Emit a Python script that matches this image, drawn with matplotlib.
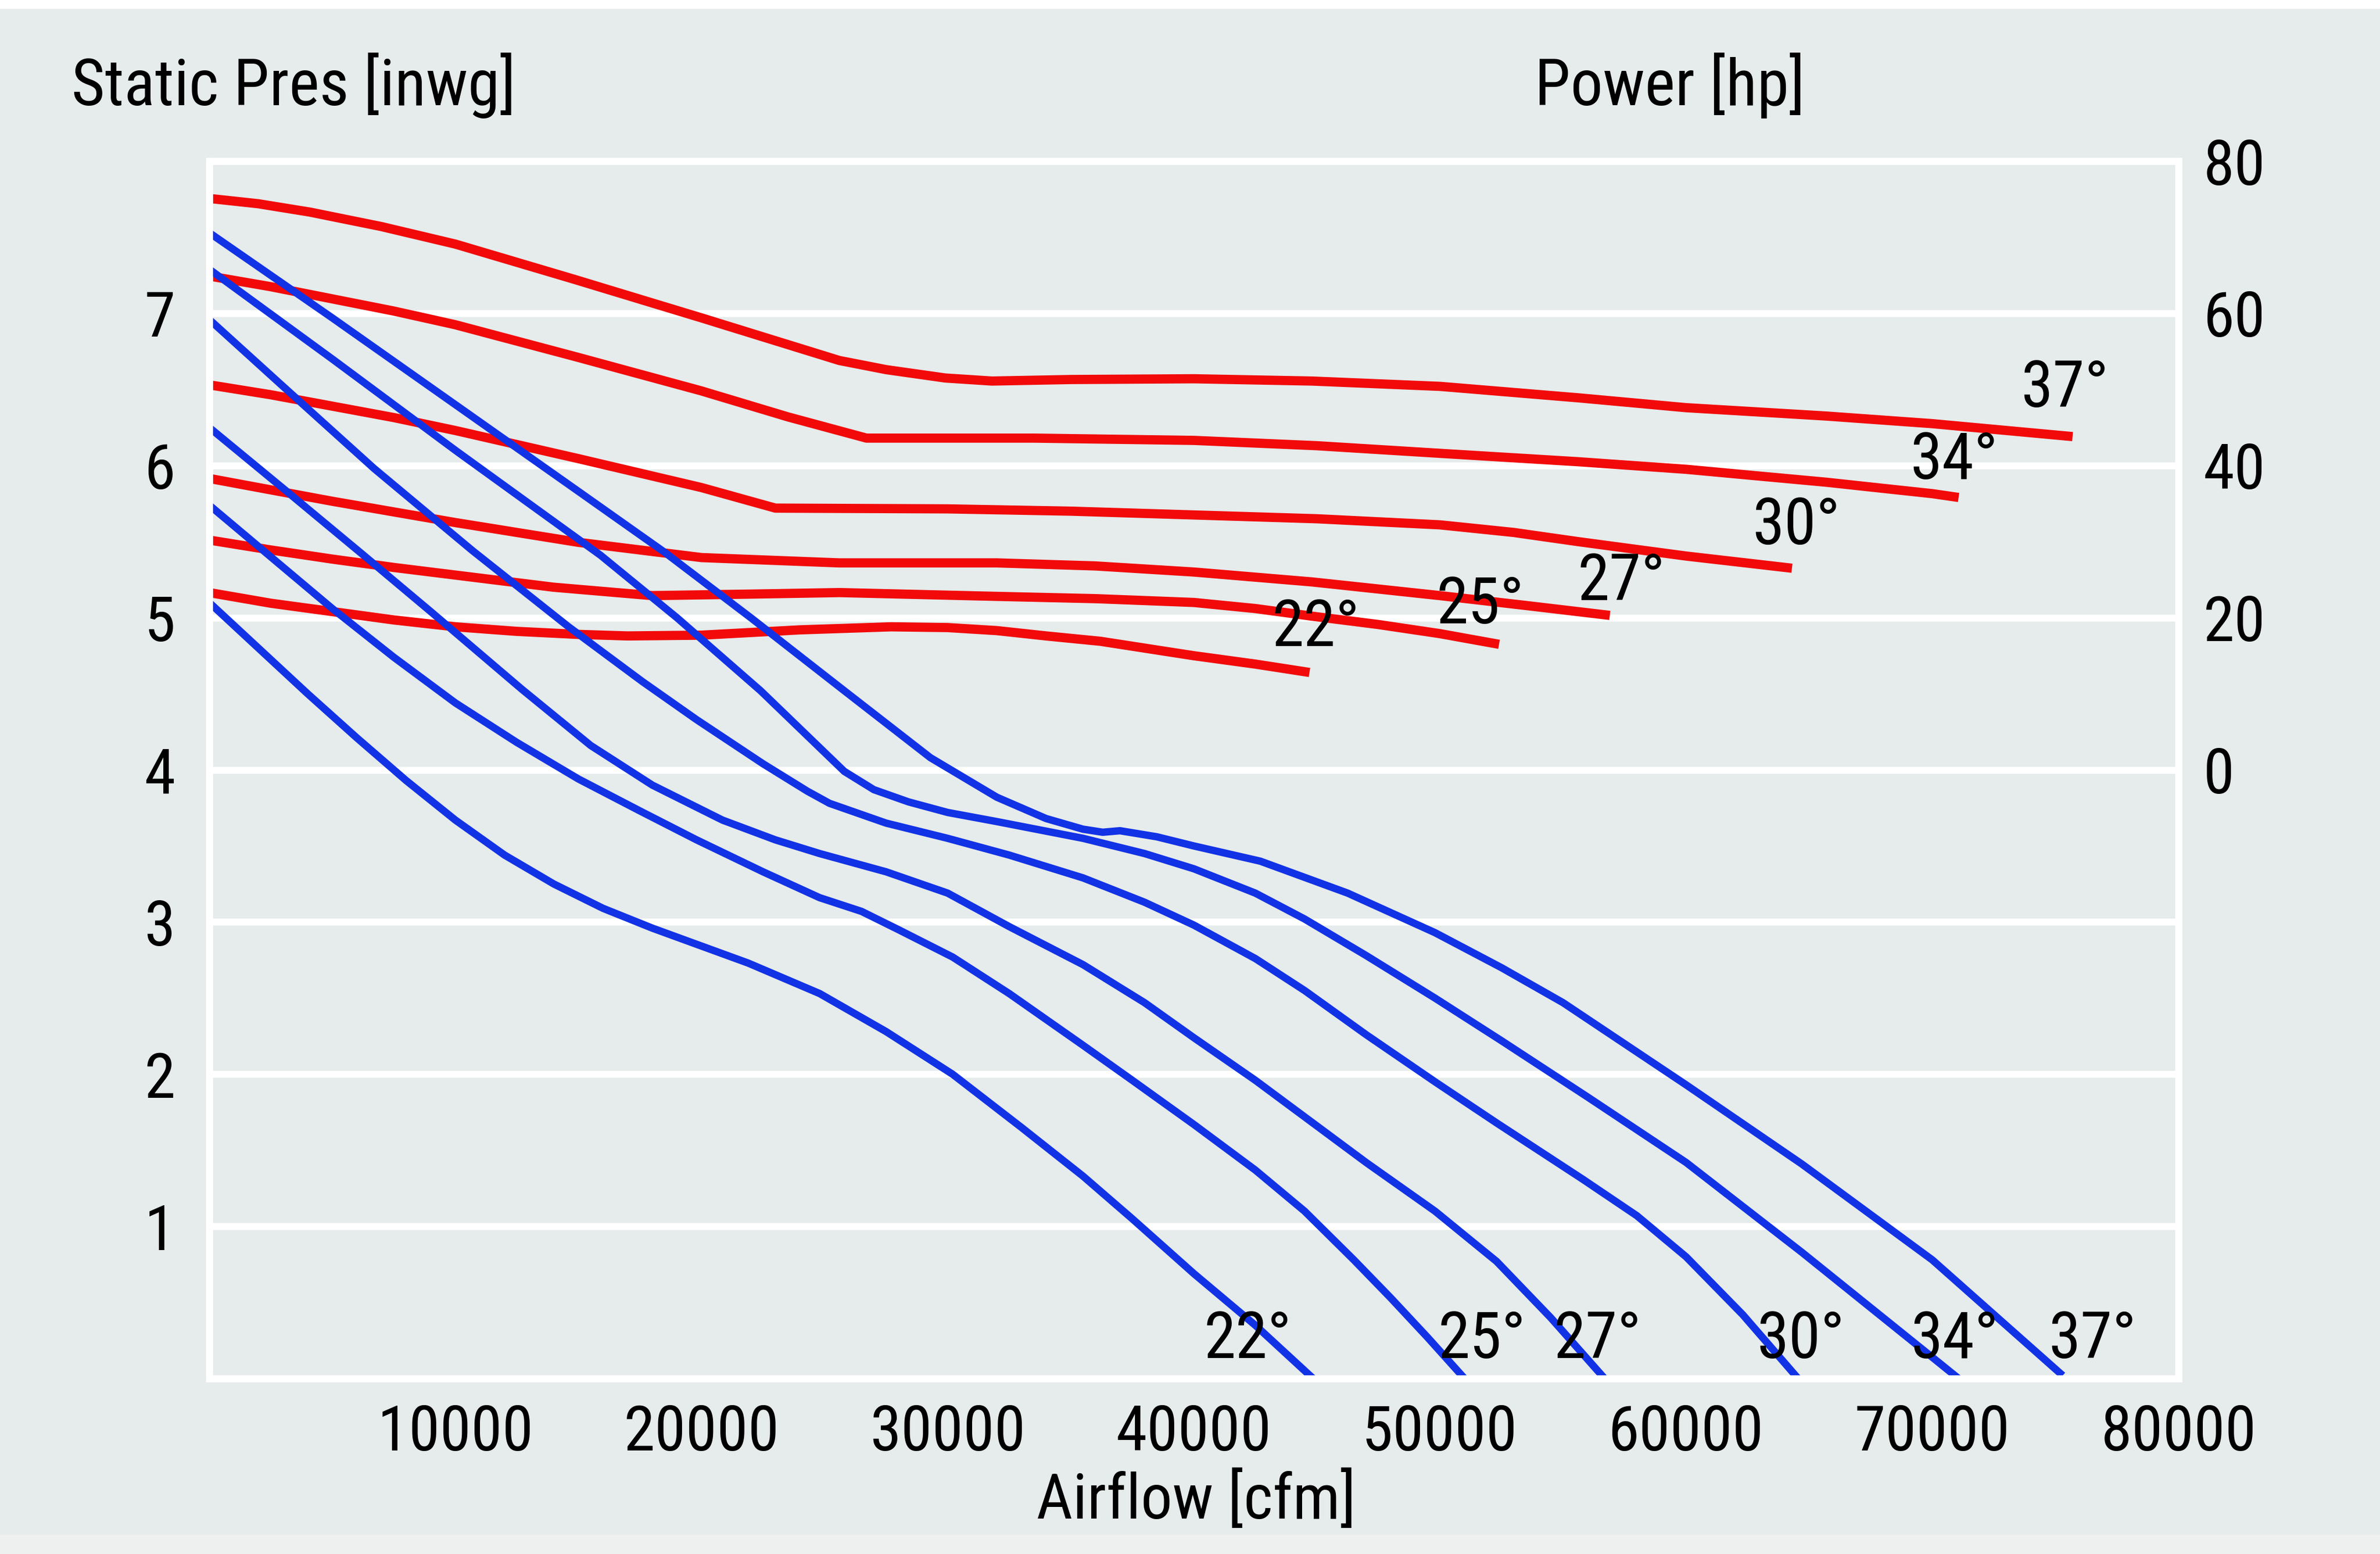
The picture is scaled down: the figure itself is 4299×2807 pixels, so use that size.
import numpy as np
import matplotlib
matplotlib.use('Agg')
import matplotlib.pyplot as plt
from matplotlib.patches import Rectangle

# 字體設定 (窄體優先, 找不到則用 Liberation Sans)
plt.rcParams['font.family'] = ['Roboto Condensed', 'Liberation Sans Narrow', 'Liberation Sans', 'DejaVu Sans']

# ---- 數據: 靜壓曲線 (藍) airflow [cfm] -> static pressure [inwg] ----
sp_flow_22 = [0, 2000, 4000, 6000, 8000, 10000, 12000, 14000, 16000, 18000, 21900, 24800, 27500, 30200, 33000, 35500, 37500, 40000, 42500, 44850]
sp_val_22 = [5.10, 4.80, 4.50, 4.21, 3.93, 3.67, 3.44, 3.25, 3.09, 2.96, 2.73, 2.53, 2.28, 2.00, 1.65, 1.33, 1.05, 0.69, 0.35, 0.00]

sp_flow_25 = [0, 2500, 5000, 7500, 10000, 12500, 15000, 17500, 19800, 22500, 24800, 26500, 28000, 30200, 32500, 35500, 37500, 40000, 42500, 44500, 46500, 48000, 49500, 51000]
sp_val_25 = [5.74, 5.40, 5.06, 4.74, 4.44, 4.18, 3.94, 3.73, 3.54, 3.33, 3.16, 3.07, 2.95, 2.77, 2.53, 2.19, 1.96, 1.67, 1.37, 1.10, 0.78, 0.53, 0.27, 0.00]

sp_flow_27 = [0, 3000, 6200, 9000, 12700, 15500, 18000, 20850, 23000, 24800, 27500, 30000, 32500, 35500, 38000, 40000, 42500, 44500, 47000, 49800, 52300, 54500, 56690]
sp_val_27 = [6.25, 5.85, 5.42, 5.04, 4.53, 4.16, 3.90, 3.67, 3.54, 3.45, 3.33, 3.19, 2.97, 2.72, 2.47, 2.24, 1.96, 1.72, 1.42, 1.10, 0.77, 0.40, 0.00]

sp_flow_30 = [0, 3000, 6700, 10700, 14600, 17600, 19800, 22500, 24300, 25200, 27500, 30000, 32500, 35500, 38000, 40000, 42500, 44500, 47000, 49800, 52300, 55800, 58000, 60000, 62300, 64550]
sp_val_30 = [6.96, 6.52, 5.98, 5.44, 4.94, 4.58, 4.33, 4.04, 3.86, 3.78, 3.65, 3.55, 3.44, 3.29, 3.13, 2.98, 2.76, 2.55, 2.26, 1.95, 1.68, 1.31, 1.07, 0.80, 0.42, 0.00]

sp_flow_34 = [0, 5000, 10000, 15900, 19000, 22400, 25800, 27000, 28400, 30000, 32000, 35500, 38000, 40000, 42500, 44500, 47000, 49800, 52500, 56000, 60000, 64700, 70000, 71070]
sp_val_34 = [7.29, 6.70, 6.10, 5.41, 5.00, 4.52, 3.99, 3.87, 3.79, 3.72, 3.66, 3.55, 3.45, 3.35, 3.19, 3.02, 2.78, 2.50, 2.22, 1.85, 1.42, 0.83, 0.14, 0.00]

sp_flow_37 = [0, 5000, 10000, 15000, 18500, 22000, 25800, 29300, 32000, 34000, 35500, 36300, 37000, 38500, 40000, 42700, 46250, 49800, 52500, 55000, 60000, 64700, 70000, 75300]
sp_val_37 = [7.53, 6.97, 6.40, 5.83, 5.43, 5.00, 4.52, 4.08, 3.82, 3.68, 3.61, 3.59, 3.60, 3.56, 3.50, 3.40, 3.19, 2.93, 2.70, 2.47, 1.93, 1.41, 0.78, 0.02]

# ---- 數據: 功率曲線 (紅) airflow [cfm] -> power [hp] ----
pw_flow_22 = [0, 2500, 5000, 7500, 10000, 12500, 15000, 17000, 20000, 24000, 27700, 30000, 32000, 34000, 36200, 38000, 40000, 42500, 44700]
pw_val_22 = [23.3, 21.9, 20.8, 19.7, 18.8, 18.2, 17.8, 17.6, 17.7, 18.4, 18.8, 18.7, 18.3, 17.6, 16.9, 16.0, 15.0, 13.9, 12.8]

pw_flow_25 = [0, 2500, 5000, 7500, 10000, 14000, 18000, 22000, 25600, 32000, 36000, 40000, 42500, 44800, 47500, 50000, 52400]
pw_val_25 = [30.2, 28.9, 27.7, 26.6, 25.6, 24.0, 22.9, 23.1, 23.3, 22.8, 22.5, 22.0, 21.2, 20.2, 19.1, 17.9, 16.5]

pw_flow_27 = [0, 2500, 5000, 7500, 10000, 15000, 20000, 25600, 32000, 36000, 40000, 44800, 50000, 53500, 56900]
pw_val_27 = [38.3, 36.8, 35.3, 33.9, 32.5, 29.9, 27.9, 27.2, 27.2, 26.8, 26.0, 24.7, 22.9, 21.6, 20.3]

pw_flow_30 = [0, 2500, 5000, 7500, 10000, 15000, 20000, 23000, 30000, 35000, 40000, 45000, 50000, 53000, 55600, 60000, 64300]
pw_val_30 = [50.6, 49.3, 47.8, 46.3, 44.6, 40.9, 37.1, 34.4, 34.3, 34.0, 33.5, 33.0, 32.2, 31.2, 30.0, 28.1, 26.5]

pw_flow_34 = [0, 2500, 5000, 7500, 10000, 15000, 20000, 23500, 26700, 33500, 40000, 45000, 50000, 55600, 60000, 65700, 70000, 71070]
pw_val_34 = [64.9, 63.5, 61.9, 60.3, 58.5, 54.2, 49.8, 46.4, 43.6, 43.6, 43.3, 42.6, 41.6, 40.5, 39.5, 37.8, 36.3, 35.8]

pw_flow_37 = [0, 2000, 4100, 7000, 10000, 14800, 20000, 23000, 25600, 27500, 29900, 31800, 35000, 40000, 44800, 50000, 55600, 60000, 65700, 70000, 75700]
pw_val_37 = [75.1, 74.4, 73.3, 71.4, 69.1, 64.5, 59.4, 56.4, 53.8, 52.6, 51.5, 51.1, 51.3, 51.4, 51.1, 50.4, 48.9, 47.6, 46.5, 45.5, 43.8]

# 標籤
angle_labels = ['22°', '25°', '27°', '30°', '34°', '37°']
sp_label_flow = [42200, 51700, 56400, 64650, 70900, 76500]
pw_label_flow = [44970, 51630, 57370, 64470, 70880, 75380]
pw_label_val = [18.6, 21.6, 24.6, 32.0, 40.6, 50.0]

x_ticks = [10000, 20000, 30000, 40000, 50000, 60000, 70000, 80000]
left_ticks = [1, 2, 3, 4, 5, 6, 7]
right_ticks = [-60, -40, -20, 0, 20, 40, 60, 80]

sp_curves = [(sp_flow_22, sp_val_22), (sp_flow_25, sp_val_25), (sp_flow_27, sp_val_27),
             (sp_flow_30, sp_val_30), (sp_flow_34, sp_val_34), (sp_flow_37, sp_val_37)]
pw_curves = [(pw_flow_22, pw_val_22), (pw_flow_25, pw_val_25), (pw_flow_27, pw_val_27),
             (pw_flow_30, pw_val_30), (pw_flow_34, pw_val_34), (pw_flow_37, pw_val_37)]

bg = '#e6ebeb'
red = '#f20a0a'
blue = '#1232e6'
fs = 41

fig = plt.figure(figsize=(4299 / 200, 2807 / 200), dpi=200, facecolor=bg)
fig.add_artist(Rectangle((0, 0.995), 1, 0.005, transform=fig.transFigure, color='white', zorder=0))
fig.add_artist(Rectangle((0, 0), 1, 0.012, transform=fig.transFigure, color='#eeefef', zorder=0))

ax = fig.add_axes([0.0879, 0.1129, 0.8274, 0.7834])
ax2 = ax.twinx()

# 藍線在紅線上方
ax.set_zorder(2)
ax2.set_zorder(1)
ax.patch.set_visible(False)
ax2.patch.set_visible(True)
ax2.set_facecolor(bg)

ax.set_xlim(0, 80000)
ax.set_ylim(0, 8)
ax2.set_ylim(-80, 80)

# 網格 (白色)
ax2.set_yticks(right_ticks)
ax2.set_yticklabels(['' if t < 0 else str(t) for t in right_ticks])
ax2.grid(axis='y', color='white', linewidth=4.5)
ax2.grid(axis='x', color='white', linewidth=3.2)
ax2.set_axisbelow(True)

ax.set_xticks(x_ticks)
ax.set_xticklabels([str(t) for t in x_ticks])
ax.set_yticks(left_ticks)
ax.set_yticklabels([str(t) for t in left_ticks])

ax.tick_params(axis='x', length=0, labelsize=fs, pad=16)
ax.tick_params(axis='y', length=0, labelsize=fs, pad=22)
ax2.tick_params(axis='y', length=0, labelsize=fs, pad=16)

for a in (ax, ax2):
    for s in a.spines.values():
        s.set_color('white')
        s.set_linewidth(4.5)

# 紅色功率曲線
for (fx, fy), lab, lx, ly in zip(pw_curves, angle_labels, pw_label_flow, pw_label_val):
    ax2.plot(fx, fy, color=red, linewidth=6, solid_capstyle='butt', solid_joinstyle='round')
    ax2.text(lx, ly, lab, fontsize=fs + 1, ha='center', va='center', color='black')

# 藍色靜壓曲線
for (fx, fy), lab, lx in zip(sp_curves, angle_labels, sp_label_flow):
    ax.plot(fx, fy, color=blue, linewidth=4.8, solid_capstyle='butt', solid_joinstyle='round', clip_on=False)
    ax.text(lx, 0.25, lab, fontsize=fs + 1, ha='center', va='center', color='black', zorder=5)

fig.text(0.030, 0.945, 'Static Pres [inwg]', fontsize=fs + 1, ha='left', va='center')
fig.text(0.7016, 0.945, 'Power [hp]', fontsize=fs + 1, ha='center', va='center')
fig.text(0.5026, 0.034, 'Airflow [cfm]', fontsize=fs, ha='center', va='center')

fig.savefig('out.png', dpi=200, facecolor=bg)
